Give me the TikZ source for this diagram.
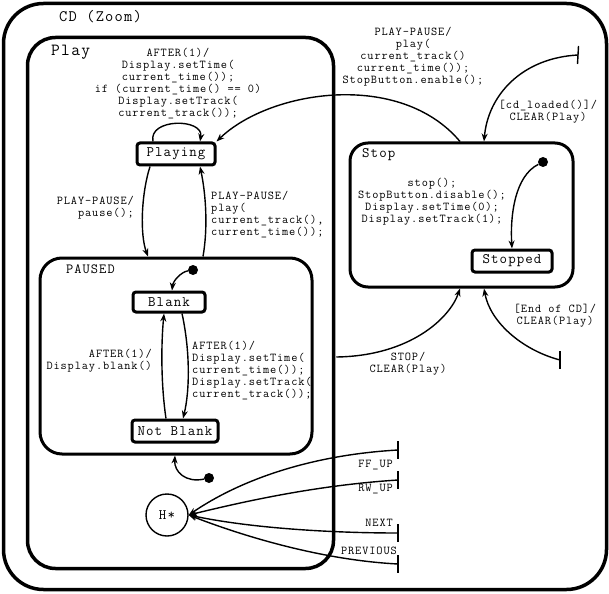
\documentclass[tikz,border=0pt]{standalone}
\usepackage{fontspec}
\newfontfamily\cfont[LetterSpace=7.5]{Latin Modern Mono}
\usetikzlibrary{arrows.meta,calc}
\begin{document}
\begin{tikzpicture}[x=1pt,y=-1pt,
  container/.style={draw, line width=3.5pt, rectangle, inner sep=0pt},
  statebox/.style={draw, line width=3pt, rounded corners=3pt, inner sep=0pt, font=\fontsize{14.5}{14}\selectfont\cfont},
  lbl/.style={font=\fontsize{12}{12}\selectfont\cfont, inner sep=0pt},
  title/.style={font=\fontsize{16}{16}\selectfont\cfont, inner sep=0pt, anchor=west},
  trans/.style={line width=1.4pt, -{Stealth[length=8pt,width=6pt]}},
  dotnode/.style={circle, fill, inner sep=0pt, minimum size=10pt},
  tickline/.style={line width=1.4pt}]
\useasboundingbox (0,0) rectangle (609,593);

% containers
\node[container, rounded corners=40pt, minimum width=603pt, minimum height=586pt] (cd) at (305,296.5) {};
\node[container, rounded corners=28pt, minimum width=306pt, minimum height=531pt] (play) at (180.5,303) {};
\node[container, line width=3pt, rounded corners=22pt, minimum width=272pt, minimum height=196pt] (paused) at (176,356) {};
\node[container, line width=3pt, rounded corners=18pt, minimum width=223pt, minimum height=144pt] (stop) at (461.5,215) {};

% titles
\node[title] (cdt) at (59,17) {CD (Zoom)};
\node[title, font=\fontsize{17}{16}\selectfont\cfont] (playt) at (51,52) {Play};
\node[title, font=\fontsize{14.5}{14}\selectfont\cfont] (stopt) at (362,155) {Stop};
\node[title, font=\fontsize{14}{14}\selectfont\cfont] (pausedt) at (66,269) {PAUSED};

% states
\node[statebox, minimum width=78pt, minimum height=22pt] (playing) at (176,154) {Playing};
\node[statebox, minimum width=72pt, minimum height=20pt] (blank) at (169,302) {Blank};
\node[statebox, minimum width=86pt, minimum height=22pt] (notblank) at (175,431) {Not Blank};
\node[statebox, minimum width=80pt, minimum height=22pt] (stopped) at (512,261) {Stopped};
\node[draw, circle, line width=1.4pt, minimum size=42pt, inner sep=0pt, font=\fontsize{14.5}{14}\selectfont\cfont] (hist) at (167,515) {H*};

% initial dots
\node[dotnode] (ipaused) at (193,270) {};
\node[dotnode] (ihist) at (209,478) {};
\node[dotnode] (istop) at (543,162) {};

% free ends (ticks)
\coordinate (cdin) at (578,55);
\coordinate (endcd) at (560,360);
\coordinate (ff) at (398,450);
\coordinate (rw) at (398,480);
\coordinate (nx) at (398,533);
\coordinate (pv) at (398,564);
\foreach \c in {ff,rw,nx,pv,endcd}{\draw[tickline] ($(\c)+(0,-9)$) -- ($(\c)+(0,9)$);}
\draw[tickline] ($(cdin)+(0.5,-9)$) -- ($(cdin)+(-0.5,9)$);

% labels
\node[lbl, align=center] (lafter) at (178,84) {AFTER(1)/\\Display.setTime(\\current\_time());\\if (current\_time() == 0)\\Display.setTrack(\\current\_track());};
\node[lbl, align=center] (lplay1) at (413,56.5) {PLAY-PAUSE/\\play(\\current\_track()\\current\_time());\\StopButton.enable();};
\node[lbl, align=center] (lcd) at (548,112) {[cd\_loaded()]/\\CLEAR(Play)};
\node[lbl, align=center] (lstop) at (432,202) {stop();\\StopButton.disable();\\Display.setTime(0);\\Display.setTrack(1);};
\node[lbl, align=right, anchor=east] (lpause) at (134,207.5) {PLAY-PAUSE/\\pause();};
\node[lbl, align=left, anchor=west] (lplay2) at (211,215) {PLAY-PAUSE/\\play(\\current\_track(),\\current\_time());};
\node[lbl, align=right, anchor=east] (lblank) at (152,361) {AFTER(1)/\\Display.blank()};
\node[lbl, align=left, anchor=west] (lnotblank) at (192,370.5) {AFTER(1)/\\Display.setTime(\\current\_time());\\Display.setTrack(\\current\_track());};
\node[lbl, align=center] (lstopev) at (408,364) {STOP/\\CLEAR(Play)};
\node[lbl, align=center] (lend) at (555,316) {[End of CD]/\\CLEAR(Play)};
\node[lbl, anchor=east] (lff) at (393,465) {FF\_UP};
\node[lbl, anchor=east] (lrw) at (393,489) {RW\_UP};
\node[lbl, anchor=east] (lnx) at (393,523) {NEXT};
\node[lbl, anchor=east] (lpv) at (397,551) {PREVIOUS};

% transitions
\draw[trans] ($(playing.north)+(-23,0)$) .. controls (148,118) and (204,118) .. ($(playing.north)+(24,0)$);
\draw[trans] ($(stop.north)+(-1.5,0)$) .. controls (400,70) and (270,90) .. (playing.north east);
\draw[trans] (cdin) .. controls (522,58) and (488,95) .. ($(stop.north)+(22.5,0)$);
\draw[trans] ($(playing.south)+(-26,0)$) .. controls (141,195) and (140,235) .. ($(paused.north)+(-28,0)$);
\draw[trans] ($(paused.north)+(27,0)$) .. controls (208,228) and (206,195) .. ($(playing.south)+(24,0)$);
\draw[trans] (ipaused) .. controls (181,272) and (173,281) .. ($(blank.north)+(3,0)$);
\draw[trans] ($(blank.south)+(13,0)$) .. controls (190,350) and (190,390) .. ($(notblank.north)+(8,0)$);
\draw[trans] ($(notblank.north)+(-9,0)$) .. controls (161,385) and (161,345) .. ($(blank.south)+(-5,0)$);
\draw[trans] (ihist) .. controls (186,483) and (174,472) .. ($(paused.south)+(-1,0)$);
\draw[trans] (istop) .. controls (515,176) and (510,215) .. (stopped.north);
\draw[trans] ($(play.east)+(1,54)$) .. controls (410,356) and (450,318) .. ($(stop.south)+(-1.5,0)$);
\draw[trans] (endcd) .. controls (522,350) and (490,322) .. ($(stop.south)+(22.5,0)$);
\draw[trans] (ff) .. controls (310,455) and (240,480) .. (hist.east);
\draw[trans] (rw) .. controls (320,485) and (250,500) .. (hist.east);
\draw[trans] (nx) .. controls (330,533) and (250,528) .. (hist.east);
\draw[trans] (pv) .. controls (320,560) and (240,535) .. (hist.east);
\end{tikzpicture}
\end{document}
